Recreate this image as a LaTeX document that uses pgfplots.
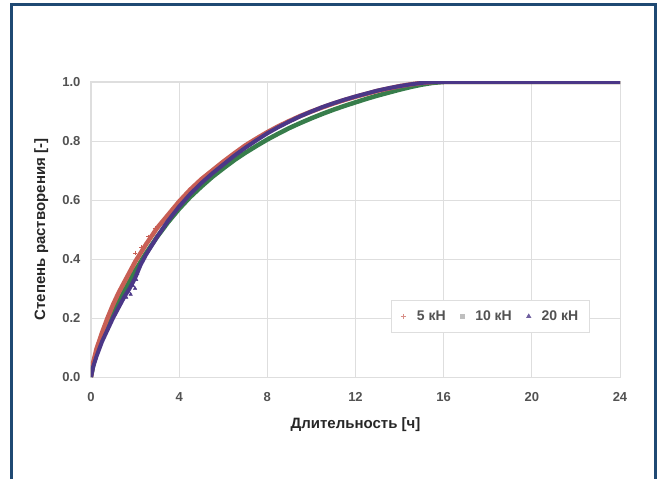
\documentclass[border=0pt]{standalone}
\usepackage{pgfplots}
\pgfplotsset{compat=1.18}
\usepackage{fontspec}
\setmainfont{Liberation Sans}

\definecolor{frameblue}{RGB}{31,73,115}
\definecolor{gridgray}{RGB}{222,222,222}
\definecolor{cRed}{RGB}{200,95,85}
\definecolor{cGreen}{RGB}{55,125,75}
\definecolor{cBlue}{RGB}{75,55,135}

\begin{document}
\begin{tikzpicture}[x=1pt,y=1pt]
% page area and open-bottom frame
\path (0,0) rectangle (657,479);
\draw[frameblue, line width=2.6pt] (11.3,0) -- (11.3,474.6) -- (655.4,474.6) -- (655.4,0);

\begin{axis}[
  at={(91pt,102pt)}, anchor=south west,
  scale only axis, width=529pt, height=295pt,
  xmin=0, xmax=24, ymin=0, ymax=1,
  xtick={0,4,...,24},
  ytick={0,0.2,...,1.0},
  yticklabel style={/pgf/number format/fixed, /pgf/number format/fixed zerofill,
    /pgf/number format/precision=1, xshift=-7pt},
  /pgf/number format/assume math mode=true,
  tick label style={font=\fontsize{13}{15}\selectfont\bfseries, text=black!68},
  xticklabel style={yshift=-12pt},
  major tick length=0pt,
  axis line style={gridgray, line width=1pt},
  grid=major,
  major grid style={gridgray, line width=0.8pt},
  xlabel={Длительность [ч]},
  ylabel={Степень растворения [-]},
  label style={font=\fontsize{15}{17}\selectfont\bfseries, text=black!85},
  xlabel style={at={(axis description cs:0.5,-0.162)}, anchor=center},
  ylabel style={at={(axis description cs:-0.094,0.5)}, anchor=center},
  legend columns=3,
  legend style={at={(axis description cs:0.568,0.260)}, anchor=north west,
    draw=gridgray, line width=0.8pt,
    font=\fontsize{14}{16}\selectfont\bfseries, text=black!68,
    inner xsep=9pt, inner ysep=8pt,
    /tikz/every odd column/.append style={column sep=9pt},
    /tikz/every even column/.append style={column sep=13pt}},
  legend cell align=left,
]

% 10 kN
\addplot[cGreen, line width=4.5pt, line join=round, forget plot] coordinates {
 (0,0) (0.1,0.04) (0.25,0.08) (0.5,0.135) (0.75,0.18) (1,0.22) (1.25,0.255)
 (1.5,0.29) (1.75,0.325) (2,0.36) (2.25,0.39) (2.5,0.42) (3,0.475) (3.5,0.525)
 (4,0.57) (4.5,0.61) (5,0.645) (5.5,0.678) (6,0.707) (6.5,0.735) (7,0.76)
 (7.5,0.783) (8,0.805) (8.5,0.825) (9,0.844) (9.5,0.861) (10,0.877)
 (10.5,0.892) (11,0.906) (11.5,0.919) (12,0.931) (12.5,0.943) (13,0.954)
 (13.5,0.964) (14,0.974) (14.5,0.983) (15,0.991) (15.5,0.997) (16,1.0)
 (18,1.0) (20,1.0) (22,1.0) (24,1.0)};

% 5 kN
\addplot[cRed, line width=4.5pt, line join=round, forget plot] coordinates {
 (0,0) (0.1,0.05) (0.25,0.095) (0.5,0.15) (0.75,0.2) (1,0.245) (1.25,0.285)
 (1.5,0.32) (1.75,0.355) (2,0.39) (2.25,0.42) (2.5,0.45) (3,0.505) (3.5,0.55)
 (4,0.595) (4.5,0.635) (5,0.67) (5.5,0.70) (6,0.73) (6.5,0.758) (7,0.785)
 (7.5,0.808) (8,0.83) (8.5,0.85) (9,0.868) (9.5,0.885) (10,0.9) (10.5,0.914)
 (11,0.927) (11.5,0.939) (12,0.95) (12.5,0.96) (13,0.97) (13.5,0.978)
 (14,0.986) (14.5,0.992) (15,0.997) (15.5,1.0) (16,1.0) (18,1.0) (20,1.0)
 (22,1.0) (24,1.0)};

% 20 kN
\addplot[cBlue, line width=4pt, line join=round, forget plot] coordinates {
 (0,0) (0.1,0.035) (0.25,0.07) (0.5,0.12) (0.75,0.16) (1,0.2) (1.25,0.235)
 (1.5,0.27) (1.75,0.30) (2,0.335) (2.25,0.38) (2.5,0.415) (3,0.475) (3.5,0.53)
 (4,0.578) (4.5,0.62) (5,0.657) (5.5,0.69) (6,0.72) (6.5,0.75) (7,0.777)
 (7.5,0.802) (8,0.826) (8.5,0.847) (9,0.866) (9.5,0.884) (10,0.9) (10.5,0.915)
 (11,0.928) (11.5,0.94) (12,0.951) (12.5,0.961) (13,0.971) (13.5,0.979)
 (14,0.986) (14.5,0.992) (15,0.997) (15.5,1.0) (16,1.0) (18,1.0) (20,1.0)
 (22,1.0) (24,1.0)};

% scattered early readings
\addplot[only marks, mark=triangle*, mark size=2pt, cBlue, forget plot] coordinates {
 (1.6,0.27) (1.7,0.29) (1.8,0.28) (1.9,0.31) (2.0,0.30) (2.05,0.33) (2.1,0.35)};
\addplot[only marks, mark=+, mark size=2.2pt, cRed, thick, forget plot] coordinates {
 (2.0,0.42) (2.3,0.44) (2.6,0.475) (2.9,0.505)};

\addlegendimage{only marks, mark=+, mark size=2.5pt, cRed!70, thick}
\addlegendentry{5 кН}
\addlegendimage{only marks, mark=square*, mark size=1.8pt, black!25}
\addlegendentry{10 кН}
\addlegendimage{only marks, mark=triangle*, mark size=2.2pt, cBlue!80}
\addlegendentry{20 кН}
\end{axis}
\end{tikzpicture}
\end{document}
